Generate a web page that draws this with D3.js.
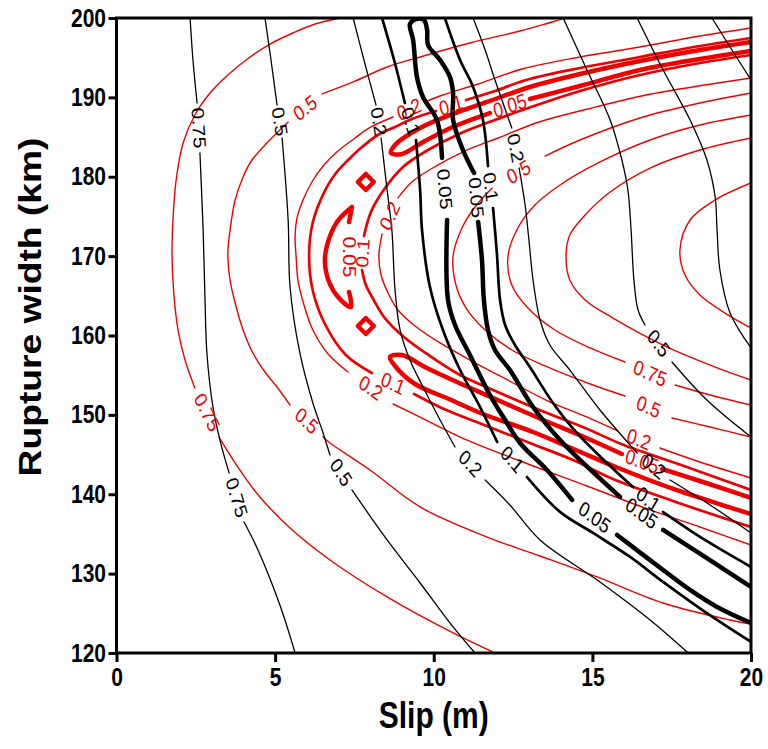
<!DOCTYPE html>
<html>
<head>
<meta charset="utf-8">
<script src="https://cdn.jsdelivr.net/npm/d3@7"></script>
<style>
  body { margin: 0; background: #fff; }
  svg { display: block; background: #fff; }
</style>
</head>
<body>
<svg id="chart" width="768" height="749"></svg>
<script>
// ---- axis ticks ----
const xTicks = [0, 5, 10, 15, 20];
const yTicks = [120, 130, 140, 150, 160, 170, 180, 190, 200];

// ---- black misfit contours: [slip (m), rupture width (km)]; null = gap holding a label ----
const blk075L = [[2.32,200],[2.41,194.71],[2.54,189.29],null,[2.63,182.99],[2.73,173.29],[2.79,164.47],[2.85,157.80],[3.04,151.0],[3.26,146.83],[3.55,142.68],null,[4.02,136.50],[4.46,132.98],[5.15,126.05],[5.63,120]];
const blk05L = [[4.68,200],[4.87,194.71],[5.06,189.04],null,[5.22,184.88],[5.41,174.55],[5.47,166.11],[5.78,157.80],[6.19,151.50],[6.48,148.09],[6.73,144.94],null,[7.42,140.54],[8.53,134.24],[9.57,128.82],[10.61,123.28],[11.30,120]];
const blk02L = [[7.46,200],[7.80,194.71],[8.18,189.04],null,[8.34,184.88],[8.53,178.33],[8.68,173.29],[8.78,165.73],[8.94,160.69],[9.25,156.91],[9.63,153.76],[10.20,149.35],[10.67,145.95],null,[11.62,141.80],[12.40,138.65],[13.35,134.24],[15.24,128.95],[16.82,124.16],[18.02,120]];
const blk01L = [[8.37,200],[8.75,194.71],[9.09,189.29],null,[9.44,184.63],[9.57,178.33],[9.63,173.29],[9.88,166.11],[10.29,160.69],[10.83,155.65],[11.46,150.99],[12.00,146.58],null,[12.94,142.17],[13.98,137.78],[15.02,135.12],[16.19,132.10],[17.23,128.95],[18.55,125.17],[20,121.39]];
const blk005 = [[20,123.78],[18.93,125.80],[18.08,127.94],[17.23,130.46],[15.78,134.87],null,[14.36,139.28],[13.57,143.05],[12.72,146.46],[12.25,149.35],[11.77,152.50],[11.14,157.54],[10.67,161.32],[10.45,164.47],[10.42,174.55],null,[10.26,182.36],[10.10,187.15],[9.66,190.05],[9.47,192.57],[9.35,197.23],[9.25,199.24],[9.44,199.87],[9.69,199.75],[9.79,198.49],[9.82,196.60],[10.20,194.71],[10.51,192.57],[10.61,190.55],[10.61,187.15],[10.92,183.37],[11.27,180.47],null,[11.40,174.30],[11.52,169.51],[11.58,164.47],[11.71,160.69],[11.93,158.17],[12.40,155.65],[13.13,150.99],[13.98,146.83],[14.71,143.94],[15.87,139.66],null,[17.23,135.50],[18.55,132.10],[20,128.32]];
const blk01R = [[10.35,200],[10.83,194.71],[11.24,191.31],[11.55,187.15],[11.71,181.35],null,[11.87,176.06],[11.99,170.39],[12.09,164.47],[12.25,161.32],[12.56,158.80],[13.03,156.03],[13.76,151.50],[14.51,147.72],[15.46,143.94],[16.28,140.91],null,[17.23,137.76],[18.55,134.24],[20,130.84]];
const blk02R = [[11.24,200],[11.62,195.97],[11.93,192.19],[12.46,186.14],null,[12.69,181.10],[12.88,176.44],[13.00,172.03],[13.13,166.99],[13.35,161.95],[13.66,158.80],[14.29,155.65],[15.24,150.61],[16.41,145.20],null,[17.45,141.80],[18.71,138.65],[20,135.12]];
const blk05R = [[14.08,200],[14.83,193.45],[15.56,187.15],[15.93,182.11],[16.12,178.33],[16.22,173.29],[16.31,166.99],[16.44,163.21],[16.66,161.32],null,[17.51,156.66],[18.61,151.87],[20,147.21]];
const blk075R = [[16.41,200],[17.23,193.45],[18.08,187.15],[18.61,182.11],[18.87,177.45],[18.93,173.29],[19.02,168.25],[19.34,162.83],[20,158.43]];
const blk1R = [[18.77,200],[19.34,196.35],[20,192.19]];

// ---- red misfit contours ----
const red075o = [[7.04,200],[6.26,199.24],[5.56,198.11],[4.84,196.72],[4.21,195.09],[3.51,192.82],[2.95,190.55],[2.47,187.78],[2.10,184.25],[1.88,179.59],[1.78,174.55],[1.75,170.02],[1.81,165.10],[1.94,160.69],[2.16,156.91],[2.47,153.39],null,[3.23,147.21],[3.89,143.05],[4.52,139.65],[5.47,135.75],[6.73,131.72],[8.53,127.06],[10.61,122.52],[11.93,120]];
const red05o = [[14.14,200],[13.51,199.24],[12.72,198.36],[11.14,196.85],[9.57,195.09],[8.53,193.83],[7.46,191.94],[6.48,190.43],null,[5.41,186.90],[4.74,184.25],[4.27,182.11],[3.99,179.97],[3.74,177.07],[3.58,173.29],[3.51,170.39],[3.58,166.99],[3.74,164.09],[3.99,160.69],[4.30,157.80],[4.68,155.40],[5.06,153.51],[5.47,151.24],null,[6.51,147.21],[6.73,146.46],[7.99,143.05],[9.57,138.40],[11.68,134.61],[13.35,132.22],[15.15,129.58],[17.23,126.30],[19.34,124.16],[20,123.65]];
const red02o = [[20,198.74],[18.39,197.73],[16.50,196.35],[14.61,195.09],[12.78,193.57],[11.40,191.69],[10.29,190.30],[9.72,189.42],null,[8.72,187.53],[8.02,186.27],[7.52,184.88],[6.98,183.24],[6.54,181.48],[6.16,179.34],[5.88,177.07],[5.69,174.80],[5.63,172.41],[5.66,170.02],[5.72,166.99],[5.91,163.84],[6.19,160.69],[6.67,157.67],[7.30,155.40],null,[8.72,151.37],[9.88,149.10],[10.83,147.21],[12.72,144.19],[14.83,141.04],[16.82,138.02],[18.39,135.87],[20,133.61]];
const red01o = [[20,197.48],[18.39,196.47],[16.50,195.09],[14.61,193.70],[12.91,192.19],[11.93,190.80],[11.02,189.67],null,[10.07,188.28],[9.31,187.28],[8.78,186.27],[8.24,185.26],[7.74,183.75],[7.30,182.11],[6.92,180.47],[6.60,178.46],[6.19,174.30],[6.07,170.02],[6.19,165.61],[6.57,161.45],[7.23,157.54],[8.05,155.28],null,[9.38,152.63],[10.32,150.74],[11.43,148.98],[13.03,146.46],[14.39,144.31],[15.65,141.92],[17.54,139.15],[20,135.87]];
const red005up = [[20,195.84],[18.39,194.83],[16.50,193.45],[14.61,191.43],[13.03,189.80],null,[11.77,188.03],[10.67,186.39],[9.72,184.50],[9.00,182.87],[8.65,182.99],[8.78,184.00],[9.57,186.14],[10.61,187.91],[11.68,189.42],[13.03,191.31],[14.61,192.94],[16.50,194.58],[18.39,195.97],[20,196.98]];
const red005dia1 = [[7.61,179.34],[7.86,180.35],[8.11,179.34],[7.86,178.33]];
const red005cres = [[7.42,176.19],[6.95,174.30],[6.64,171.40],[6.57,169.26],[6.70,166.74],[7.01,164.72],[7.39,163.59],[7.33,165.48],null,[7.33,174.30],[7.42,176.19]];
const red005dia2 = [[7.61,161.20],[7.86,162.20],[8.11,161.20],[7.86,160.19]];
const red005low = [[20,139.53],[18.39,141.67],[17.20,143.18],null,[15.93,145.07],[14.74,147.21],[13.38,149.48],[11.80,152.25],[10.73,154.14],[9.72,156.03],[9.00,157.54],[8.62,157.29],[8.78,156.16],[9.41,153.89],[10.48,152.00],[11.55,150.11],[13.13,147.84],[14.48,145.57],[15.74,143.43],[17.64,140.54],[20,137.51]];
const red01i = [[20,195.34],[18.39,194.33],[16.50,192.82],[14.61,190.80],[13.16,188.91],[11.84,187.02],[10.80,185.39],[9.82,183.37],[9.03,181.23],[8.40,178.21],[8.02,175.56],[7.80,172.54],null,[7.74,168.25],[7.86,166.36],[8.09,164.60],[8.46,162.20],[9.06,159.81],[9.88,157.42],[10.83,155.02],[11.87,153.13],[13.41,150.49],[14.77,148.35],[15.99,146.20],[17.89,143.56],[20,140.54]];
const red02i = [[20,192.44],[18.55,191.56],[16.69,190.30],[14.86,188.54],[13.32,186.90],[12.03,184.88],[10.98,183.24],[10.07,181.35],[9.31,179.34],[8.87,177.32],null,[8.37,172.79],[8.27,170.02],[8.34,167.62],[8.56,165.35],[8.87,163.21],[9.41,161.20],[10.20,159.06],[11.14,156.91],[12.09,154.90],[13.54,151.87],[14.89,149.61],[15.80,147.97],null,[17.13,145.83],[18.39,144.06],[20,142.05]];
const red05i = [[20,190.55],[18.39,189.29],[16.50,187.40],[14.61,184.63],[13.51,182.61],null,[11.84,178.58],[11.30,176.19],[10.89,173.54],[10.61,170.02],[10.70,166.36],[11.02,163.46],[11.62,160.69],[12.46,158.17],[13.51,156.16],[14.93,153.89],[16.03,152.38],null,[17.51,149.61],[18.71,148.47],[20,147.21]];
const red075i = [[20,187.78],[18.39,186.52],[16.82,184.63],[15.24,181.86],[13.98,178.96],[13.19,176.44],[12.65,173.54],[12.34,170.02],[12.46,166.36],[12.97,163.46],[13.82,160.69],[14.93,158.43],[16.03,156.66],null,[17.61,153.76],[18.71,152.50],[20,151.24]];
const red10i = [[20,184.88],[18.39,183.37],[16.82,181.10],[15.56,178.08],[14.77,175.18],[14.29,172.66],[14.17,170.14],[14.29,166.99],[14.77,164.47],[15.65,162.20],[17.23,158.80],[18.71,156.28],[20,154.39]];
const red125i = [[20,179.21],[18.87,177.07],[18.08,174.55],[17.76,170.77],[17.92,167.62],[18.39,165.10],[19.18,162.83],[20,160.94]];

// ---- drawing ----
const RED = "#ee0000", BLACK = "#000000";
const FONT = '"Liberation Sans", Arial, Helvetica, sans-serif';
const SY = 1.2;                     // vertical stretch applied to all text
const strokeFor = (v, c) => v === "0.05" ? 4.5 : v === "0.1" ? 2.7 : (c === RED ? 1.4 : 1.3);

const layers = [
  { v: "0.75", color: RED, pts: red075o },
  { v: "0.5",  color: RED, pts: red05o },
  { v: "0.2",  color: RED, pts: red02o },
  { v: "0.1",  color: RED, pts: red01o },
  { v: "0.05", color: RED, pts: red005up },
  { v: "0.05", color: RED, pts: red005dia1, closed: true },
  { v: "0.05", color: RED, pts: red005cres },
  { v: "0.05", color: RED, pts: red005dia2, closed: true },
  { v: "0.05", color: RED, pts: red005low },
  { v: "0.1",  color: RED, pts: red01i },
  { v: "0.2",  color: RED, pts: red02i },
  { v: "0.5",  color: RED, pts: red05i },
  { v: "0.75", color: RED, pts: red075i },
  { v: "1",    color: RED, pts: red10i },
  { v: "1.25", color: RED, pts: red125i },
  { v: "0.75", color: BLACK, pts: blk075L },
  { v: "0.5",  color: BLACK, pts: blk05L },
  { v: "0.2",  color: BLACK, pts: blk02L },
  { v: "0.1",  color: BLACK, pts: blk01L },
  { v: "0.05", color: BLACK, pts: blk005 },
  { v: "0.1",  color: BLACK, pts: blk01R },
  { v: "0.2",  color: BLACK, pts: blk02R },
  { v: "0.5",  color: BLACK, pts: blk05R },
  { v: "0.75", color: BLACK, pts: blk075R },
  { v: "1",    color: BLACK, pts: blk1R }
];

const svg = d3.select("#chart");
const x = d3.scaleLinear().domain([0, 20]).range([116.5, 751]);
const y = d3.scaleLinear().domain([120, 200]).range([653, 18]);

svg.append("defs").append("clipPath").attr("id", "plotClip")
  .append("rect")
  .attr("x", x(0)).attr("y", y(200))
  .attr("width", x(20) - x(0)).attr("height", y(120) - y(200));

const plot = svg.append("g").attr("clip-path", "url(#plotClip)");

const openLine = d3.line().defined(d => d !== null)
  .x(d => x(d[0])).y(d => y(d[1]))
  .curve(d3.curveCatmullRom.alpha(0.5));
const loopLine = d3.line()
  .x(d => x(d[0])).y(d => y(d[1]))
  .curve(d3.curveLinearClosed);

layers.forEach(L => {
  plot.append("path")
    .attr("d", L.closed ? loopLine(L.pts) : openLine(L.pts))
    .attr("fill", "none")
    .attr("stroke", L.color)
    .attr("stroke-width", strokeFor(L.v, L.color))
    .attr("stroke-linecap", "round")
    .attr("stroke-linejoin", "round");
});

// contour labels sit inside the gaps of each line
const labels = svg.append("g");
layers.forEach(L => {
  L.pts.forEach((p, i) => {
    if (p !== null) return;
    const a = L.pts[i - 1], b = L.pts[i + 1];
    const ax = x(a[0]), ay = y(a[1]), bx = x(b[0]), by = y(b[1]);
    let ang = Math.atan2((by - ay) / SY, bx - ax) * 180 / Math.PI;
    if (ang > 90) ang -= 180;
    if (ang <= -90) ang += 180;
    labels.append("text")
      .attr("transform", `translate(${(ax + bx) / 2},${(ay + by) / 2}) scale(1,${SY}) rotate(${ang})`)
      .attr("text-anchor", "middle")
      .attr("dominant-baseline", "central")
      .attr("font-family", FONT)
      .attr("font-size", 17.5)
      .attr("fill", L.color)
      .text(L.v);
  });
});

// axes
const gx = svg.append("g").attr("transform", `translate(0,${y(120)})`)
  .call(d3.axisBottom(x).tickValues(xTicks).tickSize(9).tickSizeOuter(0).tickPadding(3.5));
const gy = svg.append("g").attr("transform", `translate(${x(0)},0)`)
  .call(d3.axisLeft(y).tickValues(yTicks).tickSize(8).tickSizeOuter(0).tickPadding(2.5));
[gx, gy].forEach(g => {
  g.select(".domain").remove();
  g.selectAll(".tick line").attr("stroke", BLACK).attr("stroke-width", 3);
  g.selectAll(".tick text")
    .attr("font-family", FONT).attr("font-size", 21).attr("font-weight", "bold")
    .attr("fill", BLACK)
    .attr("transform", `scale(1,${SY})`);
});

// plot frame
svg.append("rect")
  .attr("x", x(0)).attr("y", y(200))
  .attr("width", x(20) - x(0)).attr("height", y(120) - y(200))
  .attr("fill", "none").attr("stroke", BLACK).attr("stroke-width", 3);

// axis titles
svg.append("text")
  .attr("transform", `translate(${(x(0) + x(20)) / 2},728) scale(1,${SY})`)
  .attr("text-anchor", "middle")
  .attr("font-family", FONT).attr("font-size", 30).attr("font-weight", "bold")
  .text("Slip (m)");
svg.append("text")
  .attr("transform", `translate(41,307) scale(1,${SY}) rotate(-90)`)
  .attr("text-anchor", "middle")
  .attr("font-family", FONT).attr("font-size", 31).attr("font-weight", "bold")
  .text("Rupture width (km)");
</script>
</body>
</html>
